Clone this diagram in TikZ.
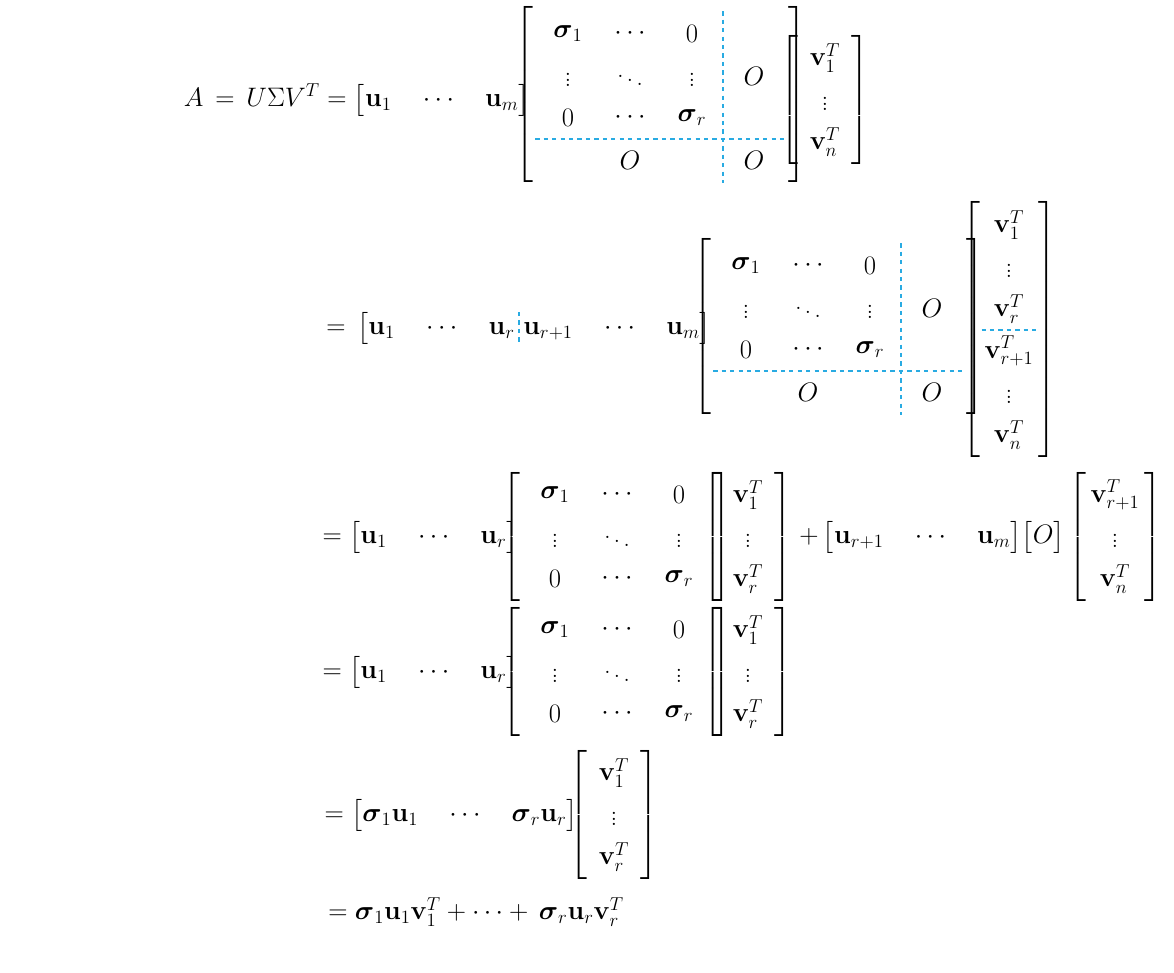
\documentclass[tikz,border=0pt]{standalone}
\usepackage{fix-cm}
\usepackage{amsmath,amssymb}
\usetikzlibrary{matrix,calc}
\newcommand\bu{\mathbf{u}}
\newcommand\bv{\mathbf{v}}
\newcommand\bsg{\boldsymbol{\sigma}}
\definecolor{dcyan}{HTML}{29ABE2}
\tikzset{
  mat/.style={matrix of math nodes, left delimiter={[}, right delimiter={]},
    nodes in empty cells, column sep=0pt, row sep=0pt, inner sep=1pt,
    nodes={inner sep=1pt, minimum height=1.05cm, minimum width=1.55cm, anchor=center}},
  vmat/.style={mat, nodes={minimum width=1.15cm}},
  dsh/.style={dcyan, dashed, line width=0.8pt},
  txt/.style={inner sep=0pt}
}
\begin{document}
\begin{tikzpicture}[x=0.025cm,y=-0.025cm,font=\fontsize{19}{23}\selectfont]
\useasboundingbox (0,0) rectangle (1174,972);
% Row 1
\node[txt,anchor=east] (t1) at (530,100) {$A\,=\,U\Sigma V^T=\bigl[\bu_1\quad\cdots\quad\bu_m\bigr]$};
\matrix[mat] (s1) at (661,97) {
 \bsg_1 & \cdots & 0 & \\
 \vdots & \ddots & \vdots & O \\
 0 & \cdots & \bsg_r & \\
 & O & & O \\};
\path ($(s1-2-3.east)!0.5!(s1-2-4.west)$) coordinate (s1v);
\path ($(s1-3-2.south)!0.5!(s1-4-2.north)$) coordinate (s1h);
\draw[dsh] (s1v |- s1.north) -- (s1v |- s1.south);
\draw[dsh] (s1h -| s1.west) -- (s1h -| s1.east);
\matrix[vmat] (v1) at (825,100) {
 \bv_1^T \\ \vdots \\ \bv_n^T \\};
% Row 2
\node[txt,anchor=east] (u2a) at (515,328) {$=\,\bigl[\bu_1\quad\cdots\quad\bu_r$};
\node[txt,anchor=west] (u2b) at (523,328) {$\bu_{r+1}\quad\cdots\quad\bu_m\bigr]$};
\coordinate (u2v) at (519,328);
\draw[dsh] ($(u2v)+(0,-16)$) -- ($(u2v)+(0,16)$);
\matrix[mat] (s2) at (839,329) {
 \bsg_1 & \cdots & 0 & \\
 \vdots & \ddots & \vdots & O \\
 0 & \cdots & \bsg_r & \\
 & O & & O \\};
\path ($(s2-2-3.east)!0.5!(s2-2-4.west)$) coordinate (s2v);
\path ($(s2-3-2.south)!0.5!(s2-4-2.north)$) coordinate (s2h);
\draw[dsh] (s2v |- s2.north) -- (s2v |- s2.south);
\draw[dsh] (s2h -| s2.west) -- (s2h -| s2.east);
\matrix[vmat] (v2) at (1009,330) {
 \bv_1^T \\ \vdots \\ \bv_r^T \\ \bv_{r+1}^T \\ \vdots \\ \bv_n^T \\};
\path ($(v2-3-1.south)!0.5!(v2-4-1.north)$) coordinate (v2h);
\draw[dsh] (v2h -| v2.west) -- (v2h -| v2.east);
% Row 3
\node[txt,anchor=east] (t3) at (518,537) {$=\bigl[\bu_1\quad\cdots\quad\bu_r\bigr]$};
\matrix[mat] (s3) at (617,537) {
 \bsg_1 & \cdots & 0 \\ \vdots & \ddots & \vdots \\ 0 & \cdots & \bsg_r \\};
\matrix[vmat] (v3) at (748,537) {
 \bv_1^T \\ \vdots \\ \bv_r^T \\};
\node[txt,anchor=east] (p3) at (1065,537) {$+\,\bigl[\bu_{r+1}\quad\cdots\quad\bu_m\bigr]\bigl[O\bigr]$};
\matrix[vmat] (w3) at (1115,537) {
 \bv_{r+1}^T \\ \vdots \\ \bv_n^T \\};
% Row 4
\node[txt,anchor=east] (t4) at (518,672) {$=\bigl[\bu_1\quad\cdots\quad\bu_r\bigr]$};
\matrix[mat] (s4) at (617,672) {
 \bsg_1 & \cdots & 0 \\ \vdots & \ddots & \vdots \\ 0 & \cdots & \bsg_r \\};
\matrix[vmat] (v4) at (748,672) {
 \bv_1^T \\ \vdots \\ \bv_r^T \\};
% Row 5
\node[txt,anchor=east] (t5) at (578,815) {$=\bigl[\bsg_1\bu_1\quad\cdots\quad\bsg_r\bu_r\bigr]$};
\matrix[vmat] (v5) at (614,815) {
 \bv_1^T \\ \vdots \\ \bv_r^T \\};
% Row 6
\node[txt,anchor=west] (t6) at (328,912) {$=\bsg_1\bu_1\bv_1^T+\cdots+\,\bsg_r\bu_r\bv_r^T$};
\end{tikzpicture}
\end{document}
